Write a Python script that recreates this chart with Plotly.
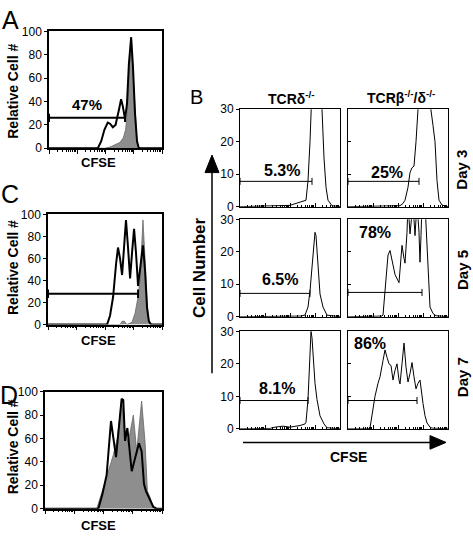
import plotly.graph_objects as go
import math

W, H = 473, 540
FONT = "Liberation Sans, Arial, sans-serif"

# ---------------- DATA ----------------
# Panel A (CFSE on relative log scale 0-100, counts 0-100)
a_cfse_black = [0, 43.2, 46.2, 49.1, 52, 54, 56.5, 58.9, 61.9, 63.8, 65.3, 67.3, 69, 70.7, 72.7, 74.3, 76.1, 77.9, 79.5, 100]
a_count_black = [0, 0, 6, 16, 22, 21, 18, 20, 33, 42, 36, 25, 38, 72, 95, 70, 30, 6, 0, 0]
a_cfse_gray = [0, 49.1, 54, 58.9, 62.8, 65.8, 67.8, 69.2, 70.7, 72.7, 74.3, 76.1, 77.9, 79.5, 100]
a_count_gray = [0, 0, 1, 3, 5, 9, 16, 30, 65, 93, 66, 28, 5, 0, 0]
a_gate_x = [0, 67.3]
a_gate_y = [26, 26]
a_pct = "47%"

# Panel C
c_cfse_black = [0, 51.8, 54.4, 57.1, 59.7, 61.4, 63.2, 65, 66.7, 68.4, 70.2, 72, 73.7, 75.5, 77.2, 79, 80.7, 82.5, 83.3, 85.1, 86.9, 88.5, 90.4, 100]
c_count_black = [0, 0, 8, 25, 55, 70, 60, 45, 70, 95, 70, 42, 65, 87, 65, 35, 50, 70, 72, 50, 15, 3, 0, 0]
c_cfse_gray = [0, 63.2, 65.1, 67.1, 69, 73.7, 76.3, 79, 80.7, 82.5, 83.3, 85.1, 86.9, 88.5, 90.4, 100]
c_count_gray = [0, 0, 3, 3, 0, 2, 10, 25, 40, 85, 95, 60, 20, 3, 0, 0]
c_gate_x = [0, 79]
c_gate_y = [28, 28]

# Panel D
d_cfse_black = [0, 45.6, 49, 52.7, 56.4, 60.7, 65.5, 66.9, 68.4, 70.4, 74.1, 80.3, 82.6, 84.6, 86.3, 89.7, 92.6, 95.4, 100]
d_count_black = [0, 0, 12, 29, 75, 44, 94, 93, 58, 69, 32, 56, 49, 21, 15, 7, 1.4, 0, 0]
d_cfse_gray = [0, 44.2, 49.9, 54.1, 58.4, 61.8, 63.5, 65.5, 68.4, 71.2, 75.5, 78.4, 82.6, 85.5, 87.5, 89.7, 92, 94, 100]
d_count_gray = [0, 0, 18, 32, 46, 60, 75, 92, 64, 57, 80, 49, 92, 57, 15, 10, 3, 0, 0]

# Panel B (CFSE relative 0-100, cell number 0-30)
b_cols = ["TCRδ<sup>-/-</sup>", "TCRβ<sup>-/-</sup>/δ<sup>-/-</sup>"]
b_rows = ["Day 3", "Day 5", "Day 7"]

b_d3_single_x = [0, 30, 50, 66, 68, 70, 72, 73, 80, 82, 84, 86, 88, 92, 100]
b_d3_single_y = [0, 0.2, 0.4, 2, 8, 20, 32, 45, 45, 30, 15, 6, 2, 0.3, 0]
b_d3_double_x = [0, 30, 52, 55, 57, 60, 62, 64, 66, 68, 70, 72, 73, 80, 82, 85, 87, 89, 91, 94, 100]
b_d3_double_y = [0, 0.2, 0.3, 1, 2, 6, 10.5, 12, 12.5, 20, 27, 32, 45, 45, 32, 25, 20, 8, 2, 0.5, 0]

b_d5_single_x = [0, 60, 65, 68, 70, 72, 74, 75, 76, 78, 80, 83, 87, 100]
b_d5_single_y = [0, 0.2, 0.5, 3, 8, 15, 24, 26, 25, 15, 7, 3, 0.5, 0]
b_d5_double_x = [0, 34, 35, 37, 39, 40, 42, 44, 47, 51, 53, 54, 56, 57, 59, 60, 62, 64, 65, 67, 69, 71, 72, 73, 74, 77, 79, 81, 82, 85, 88, 100]
b_d5_double_y = [0, 0.2, 0.5, 8, 18, 19, 20.4, 17, 13, 10.5, 17, 22, 18, 16.5, 26, 35, 25.5, 30, 35, 25, 35, 26, 16.8, 25, 35, 35, 20, 8, 3, 1, 0.3, 0]

b_d7_single_x = [0, 30, 35, 43, 50, 60, 65, 66, 68, 70, 71, 72, 74, 75, 77, 80, 84, 87, 100]
b_d7_single_y = [0, 0.1, 0.5, 0.8, 0.5, 1, 1.5, 2, 9, 22, 30, 28, 18, 14, 9, 4, 1.5, 0.3, 0]
b_d7_double_x = [0, 20, 22, 24, 27, 30, 32, 35, 37, 39, 41, 43, 45, 47, 49, 51, 52, 54, 56, 58, 60, 62, 64, 66, 68, 70, 72, 75, 77, 79, 82, 84, 100]
b_d7_double_y = [0, 0, 0.3, 4, 10, 14, 16, 21, 24.3, 22, 20, 19.5, 15, 18, 20, 15, 13.8, 20, 26.4, 19, 14.4, 17, 20.4, 16, 12.3, 14, 15, 7.8, 4, 1.8, 0.5, 0.2, 0]

b_gate_x_end = [72, 71, 70, 74, 68, 69]     # per panel, row-major
b_gate_y = [7.8, 7.8, 7.2, 7.5, 8.7, 8.7]
b_pct = ["5.3%", "25%", "6.5%", "78%", "8.1%", "86%"]
b_pct_x = [42, 39, 40, 27, 37, 22]
b_pct_y = [11.1, 10.5, 11.4, 25.8, 12.3, 26.4]

# ---------------- LAYOUT HELPERS ----------------
def dom_x(a, b):
    return [a / W, b / W]

def dom_y(top, bottom):
    return [1 - bottom / H, 1 - top / H]

def px(x, y):
    return x / W, 1 - y / H

major = [0, 25, 50, 75, 100]
minor = [25 * (d + math.log10(k)) for d in range(4) for k in range(2, 10)]

def xaxis(domain, anchor, lw, tickdir):
    return dict(domain=domain, anchor=anchor, range=[0, 100], showgrid=False, zeroline=False,
                showline=True, linecolor="black", linewidth=lw, mirror=True,
                tickmode="array", tickvals=major, ticks=tickdir, ticklen=4, tickwidth=1, tickcolor="black",
                minor=dict(tickmode="array", tickvals=minor, ticks=tickdir, ticklen=2, tickwidth=1, tickcolor="black"),
                showticklabels=False, fixedrange=True)

def yaxis(domain, anchor, rng, dtick, lw, labels, tickdir, mirror):
    return dict(domain=domain, anchor=anchor, range=rng, showgrid=False, zeroline=False,
                showline=True, linecolor="black", linewidth=lw, mirror=mirror,
                tickmode="linear", tick0=0, dtick=dtick, ticks=tickdir, ticklen=3, tickwidth=1, tickcolor="black",
                showticklabels=labels, tickfont=dict(family=FONT, size=12, color="black"), fixedrange=True)

fig = go.Figure()
layout = dict(width=W, height=H, margin=dict(l=0, r=0, t=0, b=0), paper_bgcolor="white",
              plot_bgcolor="white", showlegend=False, font=dict(family=FONT, color="black"))

GRAY = "#8e8e8e"

# Left panels A, C, D -> axes 1,2,3
left_dx = [dom_x(49, 162), dom_x(48, 162), dom_x(45, 162)]
left_rows = [(25, 145), (213, 326), (395, 515)]
left_data = [
    (a_cfse_gray, a_count_gray, a_cfse_black, a_count_black, a_gate_x, a_gate_y),
    (c_cfse_gray, c_count_gray, c_cfse_black, c_count_black, c_gate_x, c_gate_y),
    (d_cfse_gray, d_count_gray, d_cfse_black, d_count_black, None, None),
]
for i, ((top, bot), (gx, gy, bx, by, gtx, gty)) in enumerate(zip(left_rows, left_data)):
    n = i + 1
    xs = "x" if n == 1 else f"x{n}"
    ys = "y" if n == 1 else f"y{n}"
    layout["xaxis" if n == 1 else f"xaxis{n}"] = xaxis(left_dx[i], ys, 1.5, "outside")
    layout["yaxis" if n == 1 else f"yaxis{n}"] = yaxis(dom_y(top, bot), xs, [0, 100], 20, 1.5, True, "outside", True)
    fig.add_trace(go.Scatter(x=gx, y=gy, xaxis=xs, yaxis=ys, mode="lines", fill="tozeroy",
                             fillcolor=GRAY, line=dict(color="#666666", width=0.8), hoverinfo="skip"))
    fig.add_trace(go.Scatter(x=bx, y=by, xaxis=xs, yaxis=ys, mode="lines",
                             line=dict(color="black", width=2), hoverinfo="skip"))
    if gtx is not None:
        fig.add_trace(go.Scatter(x=gtx, y=gty, xaxis=xs, yaxis=ys, mode="lines+markers",
                                 line=dict(color="black", width=2),
                                 marker=dict(symbol="line-ns-open", size=6, line=dict(color="black", width=2)),
                                 hoverinfo="skip"))

# B grid -> axes 4..9
b_dx = [dom_x(240, 340), dom_x(348, 448)]
b_dy = [dom_y(105, 205), dom_y(218, 318), dom_y(333, 433)]
b_series = [
    (b_d3_single_x, b_d3_single_y), (b_d3_double_x, b_d3_double_y),
    (b_d5_single_x, b_d5_single_y), (b_d5_double_x, b_d5_double_y),
    (b_d7_single_x, b_d7_single_y), (b_d7_double_x, b_d7_double_y),
]
annotations = []
for k in range(6):
    r, c = divmod(k, 2)
    n = 4 + k
    xs, ys = f"x{n}", f"y{n}"
    layout[f"xaxis{n}"] = xaxis(b_dx[c], ys, 1, "inside")
    layout[f"yaxis{n}"] = yaxis(b_dy[r], xs, [0, 30], 10, 1, c == 0, "outside" if c == 0 else "inside", True)
    sx, sy = b_series[k]
    fig.add_trace(go.Scatter(x=sx, y=sy, xaxis=xs, yaxis=ys, mode="lines",
                             line=dict(color="black", width=1), hoverinfo="skip"))
    fig.add_trace(go.Scatter(x=[0, b_gate_x_end[k]], y=[b_gate_y[k]] * 2, xaxis=xs, yaxis=ys,
                             mode="lines+markers", line=dict(color="black", width=1),
                             marker=dict(symbol="line-ns-open", size=5, line=dict(color="black", width=1)),
                             hoverinfo="skip"))
    annotations.append(dict(x=b_pct_x[k], y=b_pct_y[k], xref=xs, yref=ys, text=f"<b>{b_pct[k]}</b>",
                            showarrow=False, font=dict(family=FONT, size=16, color="black")))

# Percent for A
annotations.append(dict(x=33.4, y=37, xref="x", yref="y", text=f"<b>{a_pct}</b>", showarrow=False,
                        font=dict(family=FONT, size=15, color="black")))

def ptext(x, y, text, size, bold=True, angle=0, xanchor="center"):
    xx, yy = px(x, y)
    annotations.append(dict(x=xx, y=yy, xref="paper", yref="paper", text=(f"<b>{text}</b>" if bold else text),
                            showarrow=False, textangle=angle, xanchor=xanchor, yanchor="middle",
                            font=dict(family=FONT, size=size, color="black")))

# Panel letters
ptext(10, 13, "A", 25, bold=False)
ptext(196, 92, "B", 20, bold=False)
ptext(10, 192, "C", 25, bold=False)
ptext(9, 398, "D", 25, bold=False)

# Left axes titles
for cy in [87, 268, 452]:
    ptext(13, cy, "Relative Cell #", 14, angle=-90)
for cy in [160, 342, 532]:
    ptext(98, cy, "CFSE", 13)

# B headers
ptext(291, 93, b_cols[0], 14)
ptext(401, 92, b_cols[1], 14)
for cy, t in zip([167, 270, 380], b_rows):
    ptext(462, cy, t, 15, angle=-90)
ptext(199, 268, "Cell Number", 17, angle=-90)
ptext(348, 462, "CFSE", 14)

layout["annotations"] = annotations

# Arrows as shapes (paper coords)
shapes = []
x1, y1 = px(212, 376)
x2, y2 = px(212, 168)
shapes.append(dict(type="line", xref="paper", yref="paper", x0=x1, y0=y1, x1=x2, y1=y2,
                   line=dict(color="black", width=1.5)))
a1, b1 = px(205, 170); a2, b2 = px(219, 170); a3, b3 = px(212, 152)
shapes.append(dict(type="path", xref="paper", yref="paper",
                   path=f"M {a1} {b1} L {a2} {b2} L {a3} {b3} Z", fillcolor="black", line=dict(color="black", width=1)))
x1, y1 = px(243, 447)
x2, y2 = px(432, 447)
shapes.append(dict(type="line", xref="paper", yref="paper", x0=x1, y0=y1, x1=x2, y1=y2,
                   line=dict(color="black", width=1.5)))
a1, b1 = px(430, 440); a2, b2 = px(430, 454); a3, b3 = px(446, 447)
shapes.append(dict(type="path", xref="paper", yref="paper",
                   path=f"M {a1} {b1} L {a2} {b2} L {a3} {b3} Z", fillcolor="black", line=dict(color="black", width=1)))
layout["shapes"] = shapes

fig.update_layout(**layout)
fig.write_html("out.html", config={"displayModeBar": False},
               post_script="document.body.style.margin='0';document.body.style.overflow='hidden';")
